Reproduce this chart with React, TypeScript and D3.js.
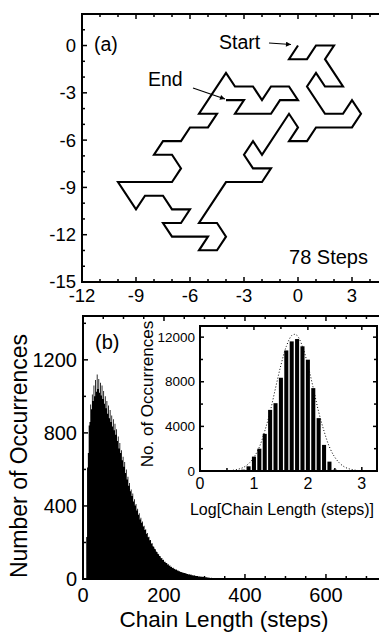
import React from 'react';
import * as d3 from 'd3';

const FONT = '"Liberation Sans", Arial, Helvetica, sans-serif';

// ---------- Panel (a): 78-step walk on a triangular lattice ----------
// vertices as [half-unit x index, row index] ; x = h/2, y = -row * sqrt(3)/2
const walkLattice: [number, number][] = [
  [0, 0], [-1, 1], [1, 1], [2, 0], [4, 0], [3, 1], [5, 3], [3, 3], [2, 2], [1, 3],
  [3, 5], [5, 5], [6, 4], [7, 5], [6, 6], [2, 6], [1, 7], [-1, 7], [0, 6], [-1, 5],
  [-4, 8], [-5, 7], [-6, 8], [-5, 9], [-3, 9], [-4, 10], [-8, 10], [-11, 13], [-9, 13], [-8, 14],
  [-9, 15], [-11, 15], [-10, 14], [-14, 14], [-15, 13], [-13, 13], [-12, 12], [-14, 12], [-15, 11], [-17, 11],
  [-18, 12], [-20, 10], [-14, 10], [-13, 9], [-14, 8], [-16, 8], [-15, 7], [-13, 7], [-12, 6], [-10, 6],
  [-9, 5], [-11, 5], [-8, 2], [-7, 3], [-5, 3], [-4, 4], [-3, 3], [-1, 3], [0, 4], [-2, 4],
  [-3, 5], [-7, 5], [-6, 4], [-8, 4],
];
const aXTicks = [-12, -9, -6, -3, 0, 3];
const aYTicks = [0, -3, -6, -9, -12, -15];

// ---------- Panel (b): chain-length histogram ----------
const histFirstLength = 8;
const histBinWidth = 2;
const histCounts = [
  230, 610, 690, 840, 860, 955, 930, 1010, 975, 1060,
  1000, 1090, 1025, 1120, 1040, 1095, 1020, 1075, 1005, 1060,
  985, 1030, 960, 1000, 935, 975, 905, 950, 880, 925,
  860, 895, 835, 875, 815, 850, 790, 820, 755, 780,
  715, 745, 690, 705, 650, 670, 615, 640, 580, 600,
  545, 560, 510, 525, 480, 490, 455, 468, 425, 436,
  402, 410, 375, 385, 352, 360, 326, 335, 308, 315,
  287, 292, 268, 272, 248, 252, 228, 232, 212, 214,
  194, 196, 180, 177, 165, 163, 150, 148, 138, 136,
  126, 124, 114, 115, 104, 105, 94, 95, 88, 87,
  80, 81, 73, 74, 66, 67, 60, 61, 56, 55,
  51, 52, 46, 47, 43, 42, 39, 39, 36, 35,
  33, 33, 31, 30, 28, 27, 25, 26, 23, 24,
  21, 21, 19, 20, 18, 17, 16, 16, 14, 15,
  13, 14, 12, 12, 11, 11, 10, 9, 9, 8,
  8, 7, 7, 6, 7, 6, 6, 6, 5, 6,
  5, 5, 5, 4, 5, 4, 4, 4, 4, 3,
  4, 3, 3, 3, 3, 2, 3, 2, 2, 3,
  2, 2, 2, 2, 1, 2, 2, 1, 2, 1,
  1, 2, 1, 1, 1, 1, 1, 0, 1, 1,
  1, 0, 1, 1, 0, 1, 0, 1, 0, 0,
];
const bXTicks = [0, 200, 400, 600];
const bYTicks = [0, 400, 800, 1200];

// ---------- Inset: log histogram ----------
const logBinCenters = [0.8, 0.9, 1.0, 1.1, 1.2, 1.3, 1.4, 1.5, 1.6, 1.7, 1.8, 1.9, 2.0, 2.1, 2.2, 2.3, 2.4, 2.5];
const logBinCounts = [120, 420, 1290, 2000, 3330, 5480, 6080, 8360, 10810, 11620, 11830, 11180, 9980, 7430, 4740, 2340, 840, 120];
const fitX = [0.5, 0.6, 0.7, 0.8, 0.9, 1.0, 1.1, 1.2, 1.3, 1.4, 1.5, 1.6, 1.7, 1.75, 1.8, 1.9, 2.0, 2.1, 2.2, 2.3, 2.4, 2.5, 2.6, 2.7, 2.8, 2.9, 3.0];
const fitY = [10, 60, 150, 310, 650, 1230, 2150, 3570, 5300, 7430, 9490, 11170, 12150, 12250, 12150, 11170, 9490, 7430, 5300, 3570, 2150, 1230, 650, 310, 150, 60, 20];
const insetXTicks = [0, 1, 2, 3];
const insetYTicks = [0, 4000, 8000, 12000];

export default function App() {
  // Panel a scales
  const xA = d3.scaleLinear().domain([-12, 4.5]).range([82, 379]);
  const yA = d3.scaleLinear().domain([-15, 2]).range([282, 14]);
  const walkPts = walkLattice.map(([h, r]) => [h / 2, (-r * Math.sqrt(3)) / 2] as [number, number]);
  const walkPath = d3.line<[number, number]>().x((d) => xA(d[0])).y((d) => yA(d[1]))(walkPts) || '';

  // Panel b scales
  const xB = d3.scaleLinear().domain([0, 730]).range([83, 378.6]);
  const yB = d3.scaleLinear().domain([0, 1440]).range([579, 316]);
  const histData = histCounts.map((c, i) => ({ L: histFirstLength + i * histBinWidth, c }));
  histData.push({ L: histFirstLength + histCounts.length * histBinWidth, c: 0 });
  const histPath =
    d3
      .area<{ L: number; c: number }>()
      .x((d) => xB(d.L))
      .y0(yB(0))
      .y1((d) => yB(d.c))
      .curve(d3.curveStepAfter)(histData) || '';

  // Inset scales
  const xI = d3.scaleLinear().domain([0, 3.3]).range([200, 378]);
  const yI = d3.scaleLinear().domain([0, 13000]).range([471, 326]);
  const barW = xI(0.075) - xI(0);
  const fitPts = fitX.map((x, i) => [x, fitY[i]] as [number, number]);
  const fitPath = d3.line<[number, number]>().x((d) => xI(d[0])).y((d) => yI(d[1])).curve(d3.curveCatmullRom)(fitPts) || '';

  const tick = (key: string, x1: number, y1: number, x2: number, y2: number) => (
    <line key={key} x1={x1} y1={y1} x2={x2} y2={y2} stroke="black" strokeWidth={1.5} />
  );

  // Panel a ticks
  const aTicks: React.ReactNode[] = [];
  d3.range(-12, 5).forEach((v) => {
    const len = v % 3 === 0 ? 5 : 3;
    aTicks.push(tick('abx' + v, xA(v), 282, xA(v), 282 - len));
    aTicks.push(tick('atx' + v, xA(v), 14, xA(v), 14 + len));
  });
  d3.range(-15, 3).forEach((v) => {
    const len = v % 3 === 0 ? 5 : 3;
    aTicks.push(tick('aly' + v, 82, yA(v), 82 + len, yA(v)));
  });

  // Panel b ticks
  const bTicks: React.ReactNode[] = [];
  d3.range(0, 731, 50).forEach((v) => {
    const len = v % 200 === 0 ? 5 : 3;
    bTicks.push(tick('bbx' + v, xB(v), 579, xB(v), 579 - len));
    bTicks.push(tick('btx' + v, xB(v), 316, xB(v), 316 + len));
  });
  d3.range(0, 1441, 200).forEach((v) => {
    const len = v % 400 === 0 ? 5 : 3;
    bTicks.push(tick('bly' + v, 83, yB(v), 83 + len, yB(v)));
  });

  // Inset ticks
  const iTicks: React.ReactNode[] = [];
  d3.range(0, 3.3, 0.5).forEach((v) => {
    const len = Number.isInteger(v) ? 4 : 3;
    iTicks.push(tick('ibx' + v, xI(v), 471, xI(v), 471 - len));
    iTicks.push(tick('itx' + v, xI(v), 326, xI(v), 326 + len));
  });
  d3.range(0, 13001, 2000).forEach((v) => {
    const len = v % 4000 === 0 ? 4 : 3;
    iTicks.push(tick('ily' + v, 200, yI(v), 200 + len, yI(v)));
    iTicks.push(tick('iry' + v, 377, yI(v), 377 - len, yI(v)));
  });

  return (
    <div style={{ position: 'absolute', left: 0, top: 0 }}>
      <svg width={379} height={633} style={{ display: 'block', background: 'white' }} fontFamily={FONT}>
        <defs>
          <marker id="arrow" viewBox="0 0 10 10" refX="10" refY="5" markerWidth="7" markerHeight="5" orient="auto" markerUnits="userSpaceOnUse">
            <path d="M0,0 L10,5 L0,10 z" fill="black" />
          </marker>
          <clipPath id="clipB">
            <rect x={83} y={316} width={300} height={263} />
          </clipPath>
        </defs>

        {/* ---------------- Panel (a) ---------------- */}
        <rect x={82} y={14} width={310} height={268} fill="white" stroke="black" strokeWidth={2} />
        {aTicks}
        <path d={walkPath} fill="none" stroke="black" strokeWidth={2.1} strokeLinejoin="miter" />
        {aXTicks.map((v) => (
          <text key={'axl' + v} x={xA(v)} y={302} fontSize={18.5} textAnchor="middle">{v}</text>
        ))}
        {aYTicks.map((v) => (
          <text key={'ayl' + v} x={76} y={yA(v)} dy="0.35em" fontSize={18.5} textAnchor="end">{v}</text>
        ))}
        <text x={94} y={51} fontSize={19.5}>(a)</text>
        <text x={219} y={49} fontSize={19.5}>Start</text>
        <line x1={269} y1={43} x2={291} y2={44.5} stroke="black" strokeWidth={1.2} markerEnd="url(#arrow)" />
        <text x={148} y={86} fontSize={19.5}>End</text>
        <line x1={193} y1={88} x2={225} y2={99} stroke="black" strokeWidth={1.2} markerEnd="url(#arrow)" />
        <text x={368} y={264} fontSize={20} textAnchor="end">78 Steps</text>

        {/* ---------------- Panel (b) ---------------- */}
        <rect x={83} y={316} width={310} height={263} fill="white" stroke="none" />
        <path d={histPath} fill="black" clipPath="url(#clipB)" />
        <rect x={83} y={316} width={310} height={263} fill="none" stroke="black" strokeWidth={2} />
        {bTicks}
        {bXTicks.map((v) => (
          <text key={'bxl' + v} x={xB(v)} y={602} fontSize={20} textAnchor="middle">{v}</text>
        ))}
        {bYTicks.map((v) => (
          <text key={'byl' + v} x={77} y={yB(v)} dy="0.35em" fontSize={20} textAnchor="end">{v}</text>
        ))}
        <text x={95} y={349} fontSize={20}>(b)</text>
        <text x={224} y={627} fontSize={22.5} textAnchor="middle">Chain Length (steps)</text>
        <text transform="translate(27,456) rotate(-90)" fontSize={23} textAnchor="middle">Number of Occurrences</text>

        {/* ---------------- Inset ---------------- */}
        <rect x={200} y={326} width={177} height={145} fill="white" stroke="none" />
        {logBinCenters.map((c, i) => (
          <rect key={'ib' + i} x={xI(c) - barW / 2} y={yI(logBinCounts[i])} width={barW} height={yI(0) - yI(logBinCounts[i])} fill="black" />
        ))}
        <path d={fitPath} fill="none" stroke="black" strokeWidth={1} strokeDasharray="1 2" />
        <rect x={200} y={326} width={177} height={145} fill="none" stroke="black" strokeWidth={2} />
        {iTicks}
        {insetXTicks.map((v) => (
          <text key={'ixl' + v} x={xI(v)} y={489} fontSize={16} textAnchor="middle">{v}</text>
        ))}
        {insetYTicks.map((v) => (
          <text key={'iyl' + v} x={195} y={yI(v)} dy="0.35em" fontSize={13.5} textAnchor="end">{v}</text>
        ))}
        <text x={282} y={515} fontSize={16} textAnchor="middle">Log[Chain Length (steps)]</text>
        <text transform="translate(153,394) rotate(-90)" fontSize={17} textAnchor="middle">No. of Occurrences</text>
      </svg>
    </div>
  );
}
